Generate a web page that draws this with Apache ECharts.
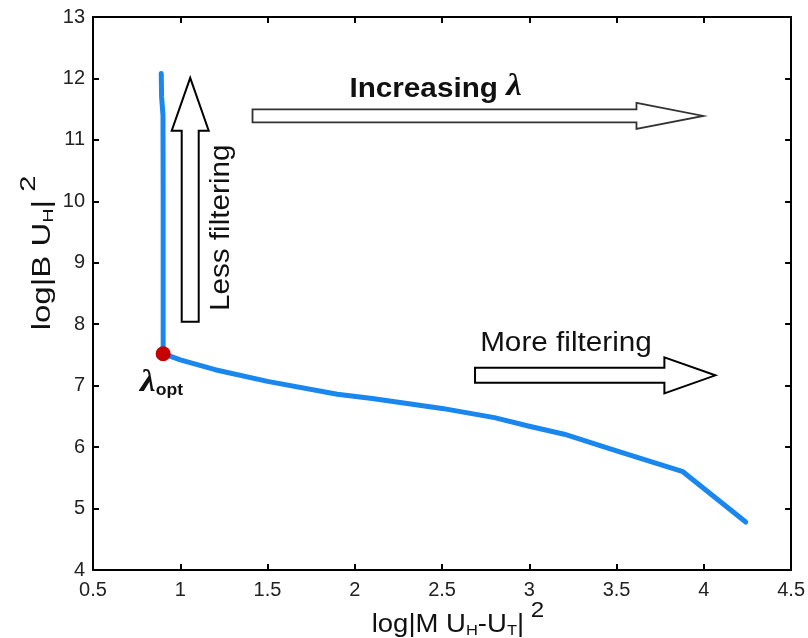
<!DOCTYPE html>
<html>
<head>
<meta charset="utf-8">
<script src="https://cdn.jsdelivr.net/npm/echarts@6/dist/echarts.min.js"></script>
<style>
  html, body { margin: 0; padding: 0; background: #fff; }
  #chart { width: 808px; height: 638px; }
</style>
</head>
<body>
<div id="chart"></div>
<script>
// L-curve: log residual norm (x) against log solution seminorm (y)
const curveX = [0.891, 0.893, 0.901, 0.902, 0.902, 0.902, 1.00, 1.20, 1.50, 1.90, 2.10, 2.30, 2.50, 2.80, 3.00, 3.20, 3.50, 3.88, 4.24];
const curveY = [12.08, 11.70, 11.40, 10.00, 8.80, 7.52, 7.42, 7.26, 7.07, 6.86, 6.79, 6.71, 6.63, 6.48, 6.34, 6.21, 5.94, 5.60, 4.78];
// corner of the L, where the regularisation parameter is optimal
const optIndex = 5;

// axis ticks
const xTicks = [0.5, 1, 1.5, 2, 2.5, 3, 3.5, 4, 4.5];
const yTicks = [4, 5, 6, 7, 8, 9, 10, 11, 12, 13];

const SANS = '"Liberation Sans", Arial, Helvetica, sans-serif';
const SERIF = '"Liberation Serif", "Times New Roman", serif';
const LINE_BLUE = '#1a87ef';

const chart = echarts.init(document.getElementById('chart'));

function axisBase(ticks) {
  return {
    type: 'value',
    min: ticks[0],
    max: ticks[ticks.length - 1],
    interval: ticks[1] - ticks[0],
    axisLine: { show: true, onZero: false, lineStyle: { color: '#000', width: 2 } },
    axisTick: { show: true, inside: true, length: 6, lineStyle: { color: '#000', width: 2 } },
    splitLine: { show: false }
  };
}
const tickLabel = { fontSize: 20, color: '#222', fontFamily: SANS };

chart.setOption({
  animation: false,
  backgroundColor: '#fff',
  grid: { left: 93, right: 15, top: 17, bottom: 68 },
  xAxis: [
    Object.assign(axisBase(xTicks), { position: 'bottom', axisLabel: Object.assign({ margin: 10 }, tickLabel) }),
    Object.assign(axisBase(xTicks), { position: 'top', axisLabel: { show: false } })
  ],
  yAxis: [
    Object.assign(axisBase(yTicks), { position: 'left', axisLabel: Object.assign({ margin: 8 }, tickLabel) }),
    Object.assign(axisBase(yTicks), { position: 'right', axisLabel: { show: false } })
  ],
  series: [
    {
      type: 'line',
      data: curveX.map((x, i) => [x, curveY[i]]),
      symbol: 'none',
      showSymbol: false,
      lineStyle: { color: LINE_BLUE, width: 5, cap: 'round', join: 'round' },
      z: 2
    },
    {
      type: 'scatter',
      data: [[curveX[optIndex], curveY[optIndex]]],
      symbolSize: 15,
      itemStyle: { color: '#c40000', opacity: 1 },
      z: 3
    }
  ]
});

// ---- annotations: hollow arrows and labels anchored in data space ----
function P(x, y) { return chart.convertToPixel({ gridIndex: 0 }, [x, y]); }

function hArrow(xLeft, xHead, xTip, yc, shaftHalf, headHalf) {
  const p = P(xLeft, yc), l = p[0], c = p[1];
  const b = P(xHead, yc)[0], t = P(xTip, yc)[0];
  return [[l, c - shaftHalf], [b, c - shaftHalf], [b, c - headHalf], [t, c],
          [b, c + headHalf], [b, c + shaftHalf], [l, c + shaftHalf]];
}
function vArrow(xc, yBottom, yHead, yTip, shaftHalf, headHalf) {
  const p = P(xc, yBottom), c = p[0], b = p[1];
  const h = P(xc, yHead)[1], t = P(xc, yTip)[1];
  return [[c - shaftHalf, b], [c - shaftHalf, h], [c - headHalf, h], [c, t],
          [c + headHalf, h], [c + shaftHalf, h], [c + shaftHalf, b]];
}
function textAt(x, y, text, rich, extra) {
  const p = P(x, y);
  return Object.assign({
    type: 'text', x: p[0], y: p[1], z: 10,
    style: {
      text: text, rich: rich,
      align: 'center', verticalAlign: 'middle',
      textAlign: 'center', textVerticalAlign: 'middle',
      fill: '#111'
    }
  }, extra || {});
}

const STRETCH = 1.1;

// rich styles for the axis titles: main text, small-cap subscript, superscript
const titleRich = {
  a: { fontSize: 25, fontFamily: SANS, fill: '#111', lineHeight: 38, verticalAlign: 'bottom' },
  s: { fontSize: 15, fontFamily: SANS, fill: '#111', lineHeight: 38, verticalAlign: 'bottom' },
  p: { fontSize: 22, fontFamily: SANS, fill: '#111', lineHeight: 38, verticalAlign: 'top' }
};

const graphics = [
  // "Less filtering" arrow pointing up
  { type: 'polygon', z: 5, shape: { points: vArrow(1.057, 8.04, 11.15, 12.01, 8.5, 18.5) },
    style: { fill: '#fff', stroke: '#000', lineWidth: 2, lineJoin: 'miter' } },
  // "Increasing lambda" arrow pointing right
  { type: 'polygon', z: 5, shape: { points: hArrow(1.414, 3.614, 3.997, 11.39, 6.5, 13) },
    style: { fill: '#fff', stroke: '#333', lineWidth: 1.8, lineJoin: 'miter' } },
  // "More filtering" arrow pointing right
  { type: 'polygon', z: 5, shape: { points: hArrow(2.689, 3.774, 4.066, 7.168, 7.5, 18) },
    style: { fill: '#fff', stroke: '#000', lineWidth: 2, lineJoin: 'miter' } },

  textAt(1.237, 9.57, '{a|Less filtering}', { a: { fontSize: 27, fontFamily: SANS, fill: '#111' } },
    { rotation: Math.PI / 2, scaleX: STRETCH }),
  textAt(2.463, 11.89, '{a|Increasing }{l|λ}', {
      a: { fontSize: 27, fontWeight: 'bold', fontFamily: SANS, fill: '#111', lineHeight: 36, verticalAlign: 'bottom' },
      l: { fontSize: 32, fontWeight: 'bold', fontStyle: 'italic', fontFamily: SERIF, fill: '#111', lineHeight: 36, verticalAlign: 'bottom' }
    }, { scaleX: STRETCH }),
  textAt(3.21, 7.69, '{a|More filtering}', { a: { fontSize: 27, fontFamily: SANS, fill: '#111' } },
    { scaleX: STRETCH }),
  textAt(0.893, 7.06, '{l|λ}{o|opt}', {
      l: { fontSize: 32, fontWeight: 'bold', fontStyle: 'italic', fontFamily: SERIF, fill: '#111', lineHeight: 34, verticalAlign: 'bottom' },
      o: { fontSize: 16, fontWeight: 'bold', fontFamily: SANS, fill: '#111', lineHeight: 34, verticalAlign: 'bottom' }
    }, { scaleX: STRETCH }),

  // axis titles
  { type: 'text', x: 458, y: 619, z: 10, scaleX: STRETCH,
    style: {
      text: '{a|log|M U}{s|H}{a|-U}{s|T}{a||}{p| 2}',
      align: 'center', verticalAlign: 'middle', textAlign: 'center', textVerticalAlign: 'middle',
      rich: titleRich
    } },
  { type: 'text', x: 37, y: 253, z: 10, rotation: Math.PI / 2, scaleX: 1.32,
    style: {
      text: '{a|log|B U}{s|H}{a||}{p| 2}',
      align: 'center', verticalAlign: 'middle', textAlign: 'center', textVerticalAlign: 'middle',
      rich: titleRich
    } }
];

chart.setOption({ graphic: graphics });
</script>
</body>
</html>
